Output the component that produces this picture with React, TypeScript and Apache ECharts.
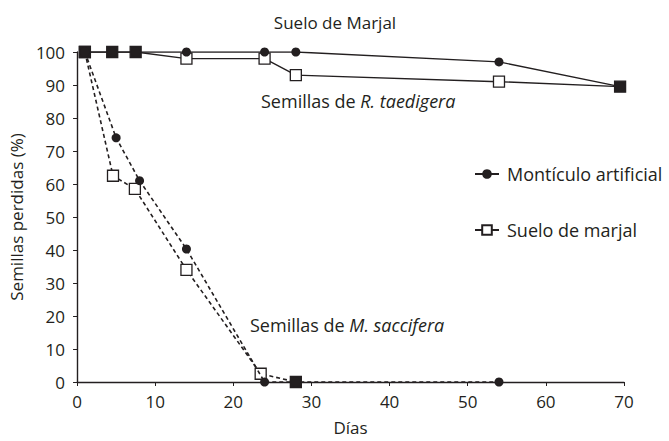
import React, { useEffect, useRef } from "react";
import * as echarts from "echarts";

const daysR = [1, 4.5, 7.5, 14, 24, 28, 54, 69.5];
const rMonticulo = [100, 100, 100, 100, 100, 100, 97, 89.5];
const rSuelo = [100, 100, 100, 98, 98, 93, 91, 89.5];

const daysMMont = [1, 5, 8, 14, 24, 28, 54];
const mMonticulo = [100, 74, 61, 40.3, 0, 0, 0];
const daysMSuelo = [1, 4.6, 7.4, 14, 23.5, 28];
const mSuelo = [100, 62.5, 58.5, 34, 2.5, 0];

const xTicks = [0, 10, 20, 30, 40, 50, 60, 70];
const yTicks = [0, 10, 20, 30, 40, 50, 60, 70, 80, 90, 100];

const FONT = "Open Sans";
const INK = "#231f20";

// squares that sit exactly under a circle print as solid dark squares
const squarePoints = (
  xs: number[],
  ys: number[],
  cx: number[],
  cy: number[]
) =>
  xs.map((x, i) => {
    const hit = cx.some((c, j) => c === x && cy[j] === ys[i]);
    return hit
      ? { value: [x, ys[i]], itemStyle: { color: INK } }
      : { value: [x, ys[i]] };
  });

const zip = (xs: number[], ys: number[]) => xs.map((x, i) => [x, ys[i]]);

export default function App() {
  const ref = useRef<HTMLDivElement>(null);
  useEffect(() => {
    if (!ref.current) return;
    const chart = echarts.init(ref.current, null, { renderer: "svg" });
    const circleStyle = { color: INK, borderColor: INK, borderWidth: 0 };
    const squareStyle = { color: "#fff", borderColor: INK, borderWidth: 1.3 };
    chart.setOption({
      animation: false,
      backgroundColor: "#fff",
      textStyle: { fontFamily: FONT },
      title: {
        text: "Suelo de Marjal",
        left: 330,
        top: 9,
        textAlign: "center",
        textStyle: { fontFamily: FONT, fontSize: 17, fontWeight: "normal", color: INK },
      },
      legend: {
        orient: "vertical",
        left: 469,
        top: 160,
        itemWidth: 24,
        itemHeight: 12,
        itemGap: 38,
        data: ["Montículo artificial", "Suelo de marjal"],
        textStyle: { fontFamily: FONT, fontSize: 18, color: INK, padding: [0, 0, 0, 3] },
      },
      grid: { left: 77, right: 45, top: 52, bottom: 56 },
      xAxis: {
        type: "value",
        min: xTicks[0],
        max: xTicks[xTicks.length - 1],
        interval: 10,
        name: "Días",
        nameLocation: "middle",
        nameGap: 37,
        nameTextStyle: { fontFamily: FONT, fontSize: 17, color: INK },
        axisLine: { lineStyle: { color: INK, width: 1.4 } },
        axisTick: { show: true, length: 4, lineStyle: { color: INK } },
        axisLabel: { fontFamily: FONT, fontSize: 17, color: INK, margin: 11 },
        splitLine: { show: false },
      },
      yAxis: {
        type: "value",
        min: yTicks[0],
        max: yTicks[yTicks.length - 1],
        interval: 10,
        name: "Semillas perdidas (%)",
        nameLocation: "middle",
        nameGap: 47,
        nameTextStyle: { fontFamily: FONT, fontSize: 17, color: INK },
        axisLine: { show: true, lineStyle: { color: INK, width: 1.4 } },
        axisTick: { show: true, length: 4, lineStyle: { color: INK } },
        axisLabel: { fontFamily: FONT, fontSize: 17, color: INK, margin: 12 },
        splitLine: { show: false },
      },
      series: [
        {
          name: "Suelo de marjal",
          type: "line",
          data: squarePoints(daysR, rSuelo, daysR, rMonticulo),
          symbol: "rect",
          symbolSize: 11,
          lineStyle: { color: INK, width: 1.4 },
          itemStyle: squareStyle,
          z: 2,
        },
        {
          name: "Montículo artificial",
          type: "line",
          data: zip(daysR, rMonticulo),
          symbol: "circle",
          symbolSize: 9,
          lineStyle: { color: INK, width: 1.4 },
          itemStyle: circleStyle,
          z: 3,
        },
        {
          name: "M suelo",
          type: "line",
          data: squarePoints(daysMSuelo, mSuelo, daysMMont, mMonticulo),
          symbol: "rect",
          symbolSize: 11,
          lineStyle: { color: INK, width: 1.6, type: [4, 3] },
          itemStyle: squareStyle,
          z: 2,
        },
        {
          name: "M monticulo",
          type: "line",
          data: zip(daysMMont, mMonticulo),
          symbol: "circle",
          symbolSize: 9,
          lineStyle: { color: INK, width: 1.6, type: [4, 3] },
          itemStyle: circleStyle,
          z: 3,
        },
      ],
      graphic: [
        {
          type: "text",
          left: 261,
          top: 92,
          style: {
            text: "{a|Semillas de }{b|R. taedigera}",
            rich: {
              a: { fontFamily: FONT, fontSize: 18, fill: INK },
              b: { fontFamily: FONT, fontSize: 18, fill: INK, fontStyle: "italic" },
            },
          },
        },
        {
          type: "text",
          left: 250,
          top: 316,
          style: {
            text: "{a|Semillas de }{b|M. saccifera}",
            rich: {
              a: { fontFamily: FONT, fontSize: 18, fill: INK },
              b: { fontFamily: FONT, fontSize: 18, fill: INK, fontStyle: "italic" },
            },
          },
        },
      ],
    });
    return () => chart.dispose();
  }, []);
  return (
    <div
      ref={ref}
      style={{ position: "fixed", left: 0, top: 0, width: 669, height: 441 }}
    />
  );
}
